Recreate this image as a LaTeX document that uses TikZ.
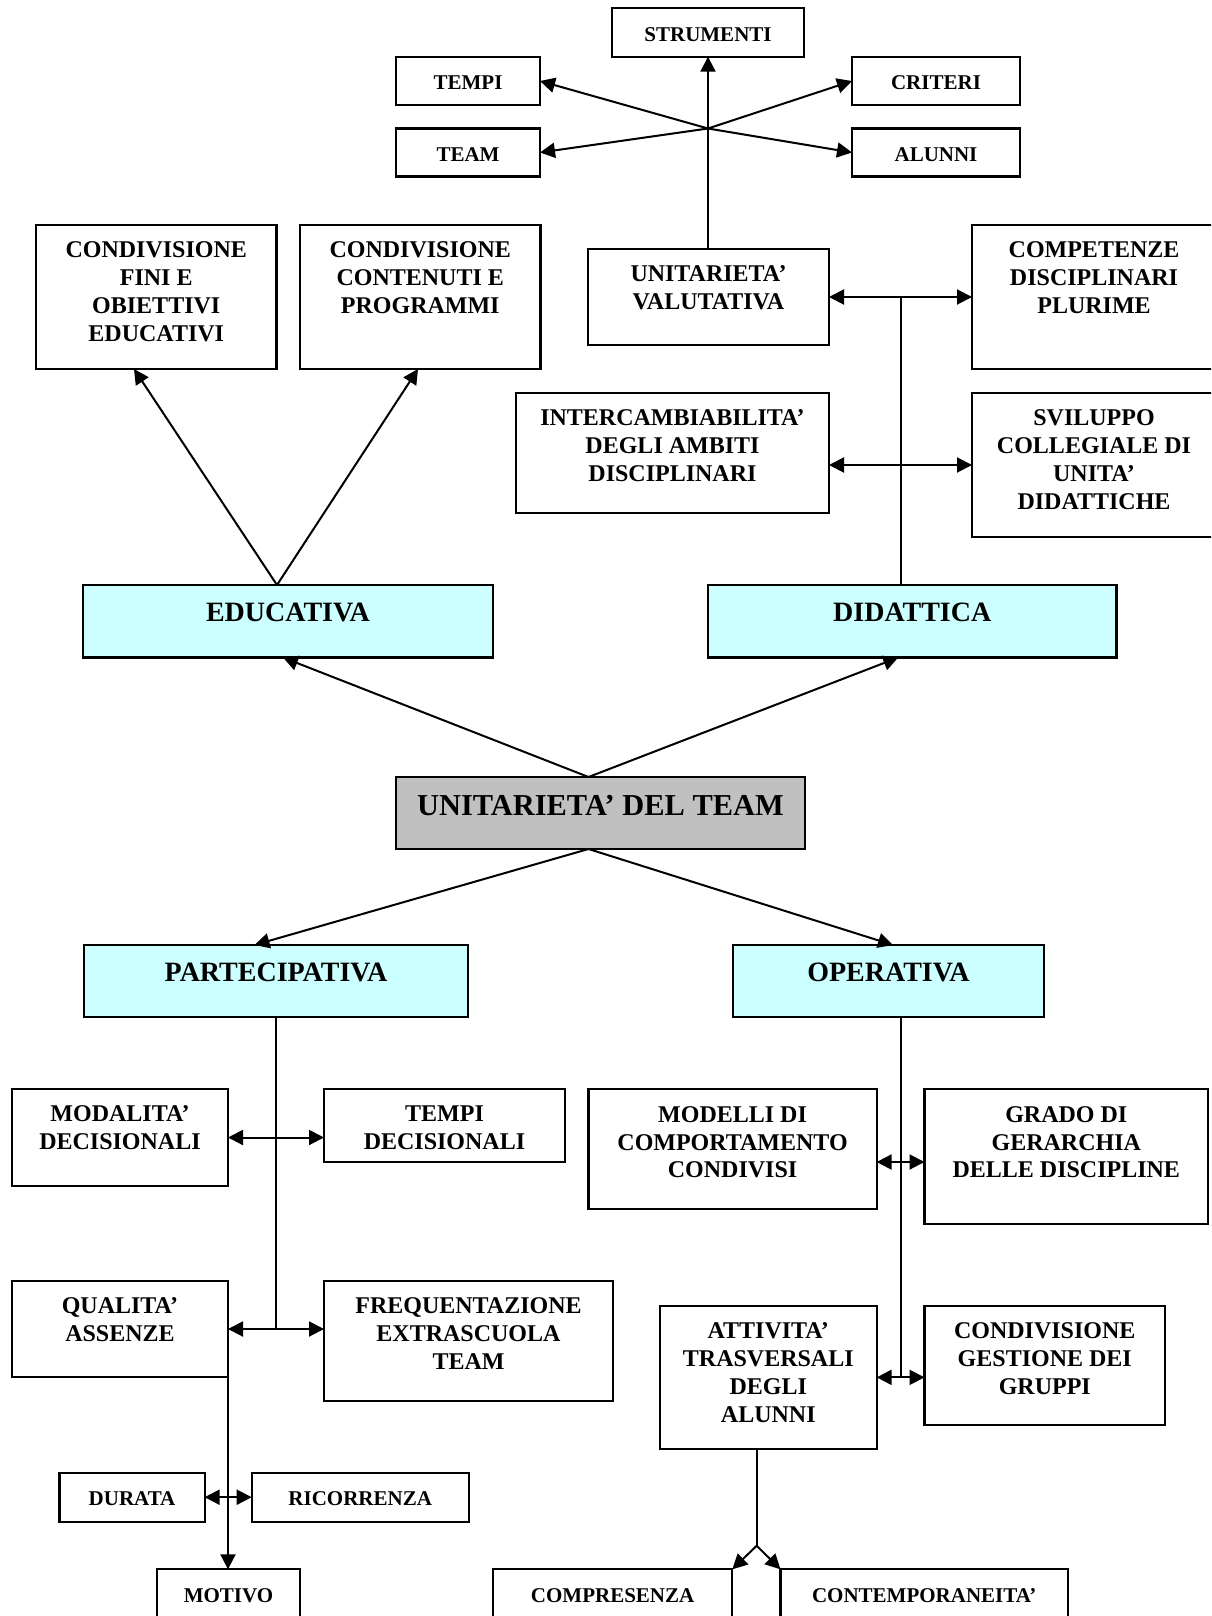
\documentclass[tikz,border=0pt]{standalone}
\usepackage{fontspec}
\setmainfont{Liberation Serif}
\usetikzlibrary{arrows.meta}
\definecolor{cyanfill}{HTML}{CCFFFF}
\definecolor{grayfill}{HTML}{C0C0C0}
\tikzset{
  boxst/.style={draw=black, line width=1.1pt, rectangle, inner sep=0pt, outer sep=0pt},
  plainb/.style={fill=white},
  cyanb/.style={fill=cyanfill},
  grayb/.style={fill=grayfill},
  txtst/.style={inner sep=0pt, outer sep=0pt, align=center},
  fs/.style={font=\fontsize{10.5}{12.6}\selectfont\bfseries, yshift=-9.5pt},
  fm/.style={font=\fontsize{12}{13.9}\selectfont\bfseries, yshift=-8.5pt},
  fl/.style={font=\fontsize{14}{16}\selectfont\bfseries, yshift=-9.15pt},
  fx/.style={font=\fontsize{15.2}{18}\selectfont\bfseries, yshift=-9.15pt},
  conn/.style={line width=1pt},
  arr/.style={conn, -{Triangle[length=7.5pt,width=7.5pt]}},
  darr/.style={conn, {Triangle[length=7.5pt,width=7.5pt]}-{Triangle[length=7.5pt,width=7.5pt]}},
}
% name, x1, y1, x2, y2, box style, font style, text
\newcommand\mybox[8]{%
  \node[boxst,#6,minimum width={(#4-#2)*0.5pt},minimum height={(#5-#3)*0.5pt},anchor=north west] (#1) at (#2,#3) {};
  \node[txtst,#7,anchor=north] (#1t) at (#1.north) {#8};
}
\begin{document}
\begin{tikzpicture}[x=0.5pt,y=-0.5pt]
\useasboundingbox (0,0) rectangle (1211,1616);
\fill[white] (0,0) rectangle (1211,1616);
\clip (0,0) rectangle (1211,1616);

% top cluster
\mybox{strum}{612}{8.3}{804}{56.7}{plainb}{fs}{STRUMENTI}
\mybox{tempi}{396}{57}{540}{105}{plainb}{fs}{TEMPI}
\mybox{criteri}{852}{57}{1020}{105}{plainb}{fs}{CRITERI}
\mybox{team}{396}{128.5}{540}{176.5}{plainb}{fs}{TEAM}
\mybox{alunni}{852}{128.5}{1020}{176.5}{plainb}{fs}{ALUNNI}

% second level
\mybox{fini}{36}{225}{276.5}{369}{plainb}{fm}{CONDIVISIONE\\FINI E\\OBIETTIVI\\EDUCATIVI}
\mybox{cont}{300}{225}{540.5}{369}{plainb}{fm}{CONDIVISIONE\\CONTENUTI E\\PROGRAMMI}
\mybox{val}{588}{249}{829}{345}{plainb}{fm}{UNITARIETA’\\VALUTATIVA}
\mybox{comp}{972}{225}{1216}{369}{plainb}{fm}{COMPETENZE\\DISCIPLINARI\\PLURIME}
\mybox{inter}{516}{393}{829}{513}{plainb}{fm}{INTERCAMBIABILITA’\\DEGLI AMBITI\\DISCIPLINARI}
\mybox{svil}{972}{393}{1216}{537}{plainb}{fm}{SVILUPPO\\COLLEGIALE DI\\UNITA’\\DIDATTICHE}

% main categories
\mybox{edu}{83}{585}{493}{657.5}{cyanb}{fl}{EDUCATIVA}
\mybox{did}{708}{585}{1116.5}{657.5}{cyanb}{fl}{DIDATTICA}
\mybox{udt}{396}{777}{805}{849}{grayb}{fx}{UNITARIETA’ DEL TEAM}
\mybox{part}{84}{945}{468}{1017}{cyanb}{fl}{PARTECIPATIVA}
\mybox{oper}{733}{945}{1044}{1017}{cyanb}{fl}{OPERATIVA}

% lower part
\mybox{moda}{12}{1089}{228}{1186}{plainb}{fm}{MODALITA’\\DECISIONALI}
\mybox{tdec}{324}{1089}{565}{1162}{plainb}{fm}{TEMPI\\DECISIONALI}
\mybox{modl}{588.5}{1089.3}{876.6}{1209.3}{plainb}{fm}{MODELLI DI\\COMPORTAMENTO\\CONDIVISI}
\mybox{grado}{924.5}{1089.3}{1208}{1224}{plainb}{fm}{GRADO DI\\GERARCHIA\\DELLE DISCIPLINE}
\mybox{qual}{12}{1281}{228}{1377}{plainb}{fm}{QUALITA’\\ASSENZE}
\mybox{freq}{324}{1281}{613}{1400.6}{plainb}{fm}{FREQUENTAZIONE\\EXTRASCUOLA\\TEAM}
\mybox{att}{660}{1305.7}{876.6}{1449}{plainb}{fm}{ATTIVITA’\\TRASVERSALI\\DEGLI\\ALUNNI}
\mybox{cges}{924.5}{1305.7}{1165}{1425}{plainb}{fm}{CONDIVISIONE\\GESTIONE DEI\\GRUPPI}
\mybox{dur}{59.5}{1472.7}{204.6}{1521.7}{plainb}{fs}{DURATA}
\mybox{ric}{251.7}{1472.7}{468.7}{1521.7}{plainb}{fs}{RICORRENZA}
\mybox{mot}{157}{1569.3}{300}{1650}{plainb}{fs}{MOTIVO}
\mybox{compr}{493}{1569.3}{732.3}{1650}{plainb}{fs}{COMPRESENZA}
\mybox{contm}{780.5}{1569.3}{1068}{1650}{plainb}{fs}{CONTEMPORANEITA’}

% ---- connectors ----
\coordinate (hub) at (708,128.5);
\draw[arr] (strum.south |- val.north) -- (strum.south);
\draw[arr] (hub) -- (tempi.east);
\draw[arr] (hub) -- (team.east);
\draw[arr] (hub) -- (criteri.west);
\draw[arr] (hub) -- (alunni.west);

\coordinate (dv) at (900.5,297);
\draw[conn] (did.north -| dv) -- (dv |- val.east);
\draw[darr] (val.east) -- (comp.west |- val.east);
\draw[darr] (inter.east |- svil.west) -- (svil.west);

\coordinate (ea) at (277,585);
\draw[arr] (ea) -- ([xshift=49pt]fini.south west);
\draw[arr] (ea) -- ([xshift=59pt]cont.south west);

\draw[arr] ([xshift=-6pt]udt.north) -- ([xshift=-2.5pt]edu.south);
\draw[arr] ([xshift=-6pt]udt.north) -- ([xshift=-7pt]did.south);
\draw[arr] ([xshift=-6pt]udt.south) -- ([xshift=-10.75pt]part.north);
\draw[arr] ([xshift=-6pt]udt.south) -- ([xshift=2.25pt]oper.north);

\draw[conn] (part.south) -- (part.south |- qual.east);
\draw[darr] (moda.east) -- (tdec.west |- moda.east);
\draw[darr] (qual.east) -- (freq.west |- qual.east);
\draw[arr] (qual.south east) -- (qual.south east |- mot.north);
\draw[darr] (dur.east) -- (ric.west);

\coordinate (ov) at (900.5,1162);
\draw[conn] (oper.south -| ov) -- (ov |- att.east);
\draw[darr] (modl.east |- ov) -- (grado.west |- ov);
\draw[darr] (att.east) -- (cges.west |- att.east);

\coordinate (asp) at (756.7,1545.7);
\draw[conn] (att.south -| asp) -- (asp);
\draw[arr] (asp) -- (compr.north east);
\draw[arr] (asp) -- (contm.north west);
\end{tikzpicture}
\end{document}
